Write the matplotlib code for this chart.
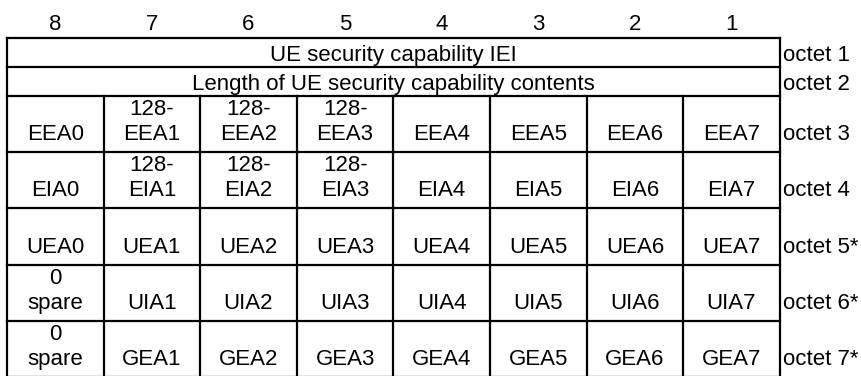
import matplotlib.pyplot as plt

bits = ['8', '7', '6', '5', '4', '3', '2', '1']

full_rows = ['UE security capability IEI',
             'Length of UE security capability contents']
full_octets = ['octet 1', 'octet 2']

eea = ['EEA0', '128-\nEEA1', '128-\nEEA2', '128-\nEEA3', 'EEA4', 'EEA5', 'EEA6', 'EEA7']
eia = ['EIA0', '128-\nEIA1', '128-\nEIA2', '128-\nEIA3', 'EIA4', 'EIA5', 'EIA6', 'EIA7']
uea = ['UEA0', 'UEA1', 'UEA2', 'UEA3', 'UEA4', 'UEA5', 'UEA6', 'UEA7']
uia = ['0\nspare', 'UIA1', 'UIA2', 'UIA3', 'UIA4', 'UIA5', 'UIA6', 'UIA7']
gea = ['0\nspare', 'GEA1', 'GEA2', 'GEA3', 'GEA4', 'GEA5', 'GEA6', 'GEA7']
bit_rows = [eea, eia, uea, uia, gea]
bit_octets = ['octet 3', 'octet 4', 'octet 5*', 'octet 6*', 'octet 7*']

plt.rcParams['font.family'] = ['Liberation Sans', 'DejaVu Sans']
fs = 16

fig = plt.figure(figsize=(8.62, 3.76), dpi=100)
ax = fig.add_axes([0, 0, 1, 1])
ax.set_xlim(0, 862)
ax.set_ylim(376, 0)
ax.axis('off')

left = 7
colw = 96.6
right = left + 8 * colw
row_tops = [38, 67, 96, 152, 208, 265, 321, 377]
lw = 1.6

# header bit numbers
for i, b in enumerate(bits):
    ax.text(left + (i + 0.5) * colw, 30, b, ha='center', va='baseline', fontsize=fs)

# horizontal lines
for y in row_tops:
    ax.plot([left, right], [y, y], color='black', lw=lw, solid_capstyle='projecting')
# outer verticals
ax.plot([left, left], [row_tops[0], row_tops[-1]], color='black', lw=lw)
ax.plot([right, right], [row_tops[0], row_tops[-1]], color='black', lw=lw)
# inner verticals for bit rows
for i in range(1, 8):
    x = left + i * colw
    ax.plot([x, x], [row_tops[2], row_tops[-1]], color='black', lw=lw)

# full width rows
for r, (txt, oc) in enumerate(zip(full_rows, full_octets)):
    base = row_tops[r + 1] - 6
    ax.text((left + right) / 2, base, txt, ha='center', va='baseline', fontsize=fs)
    ax.text(right + 3, base, oc, ha='left', va='baseline', fontsize=fs)

# bit rows
for r, (cells, oc) in enumerate(zip(bit_rows, bit_octets)):
    base = row_tops[r + 3] - 12
    for i, txt in enumerate(cells):
        lines = txt.split('\n')
        cx = left + (i + 0.5) * colw
        for k, ln in enumerate(reversed(lines)):
            ax.text(cx, base - 25 * k, ln, ha='center', va='baseline', fontsize=fs)
    ax.text(right + 3, base, oc, ha='left', va='baseline', fontsize=fs)

fig.savefig('out.png', dpi=100)
